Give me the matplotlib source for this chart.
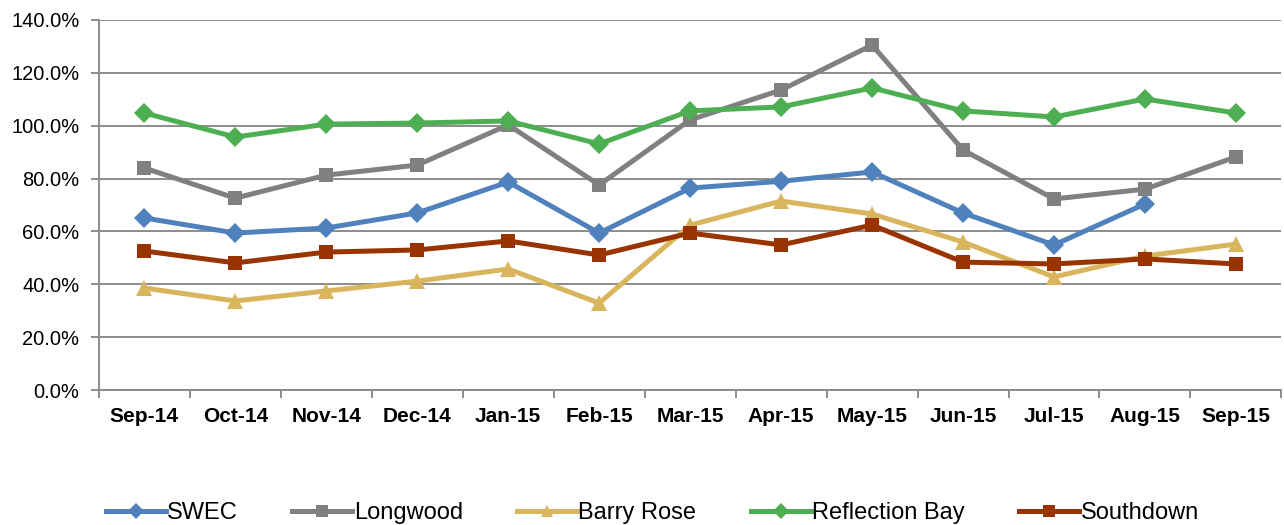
import matplotlib
matplotlib.use("Agg")
import matplotlib.pyplot as plt
from matplotlib.ticker import FuncFormatter, MultipleLocator, FixedLocator

plt.rcParams['font.family'] = ['Liberation Sans', 'DejaVu Sans']

months = ['Sep-14', 'Oct-14', 'Nov-14', 'Dec-14', 'Jan-15', 'Feb-15', 'Mar-15',
          'Apr-15', 'May-15', 'Jun-15', 'Jul-15', 'Aug-15', 'Sep-15']

swec = [65.1, 59.4, 61.3, 67.0, 78.7, 59.4, 76.4, 79.0, 82.5, 67.0, 54.9, 70.4, None]
longwood = [84.0, 72.6, 81.3, 85.1, 100.3, 77.6, 102.2, 113.5, 130.5, 90.8, 72.3, 76.0, 88.2]
barry_rose = [38.6, 33.7, 37.5, 41.2, 45.8, 32.9, 62.4, 71.5, 66.6, 56.0, 42.8, 50.7, 55.2]
reflection_bay = [104.8, 95.7, 100.6, 101.0, 101.8, 93.1, 105.6, 107.1, 114.3, 105.6, 103.3, 110.1, 104.8]
southdown = [52.6, 48.1, 52.2, 53.0, 56.4, 51.1, 59.4, 54.9, 62.4, 48.4, 47.7, 49.6, 47.7]

series = [
    ('SWEC', swec, '#4F81BD', 'D', 10),
    ('Longwood', longwood, '#808080', 's', 10),
    ('Barry Rose', barry_rose, '#D9B65E', '^', 11),
    ('Reflection Bay', reflection_bay, '#4EAF52', 'D', 10),
    ('Southdown', southdown, '#993300', 's', 10),
]

fig = plt.figure(figsize=(12.84, 5.25), dpi=100)
ax = fig.add_axes([0.077, 0.257, 0.921, 0.705])

x = list(range(len(months)))
for name, vals, color, marker, ms in series:
    xs = [i for i, v in zip(x, vals) if v is not None]
    ys = [v for v in vals if v is not None]
    ax.plot(xs, ys, color=color, lw=3.6, marker=marker, markersize=ms,
            markeredgewidth=0, label=name, solid_joinstyle='miter')

ax.set_xlim(-0.5, len(months) - 0.5)
ax.set_ylim(0, 140)
ax.yaxis.set_major_locator(MultipleLocator(20))
ax.yaxis.set_major_formatter(FuncFormatter(lambda v, p: f'{v:.1f}%'))
ax.grid(axis='y', color='#8c8c8c', lw=1.4)
ax.set_axisbelow(True)

ax.set_xticks(x)
ax.set_xticklabels(months, fontweight='bold', fontsize=15)
ax.xaxis.set_minor_locator(FixedLocator([i - 0.5 for i in range(len(months) + 1)]))
ax.tick_params(axis='x', which='major', length=0, pad=12)
ax.tick_params(axis='x', which='minor', length=6, color='#8c8c8c', width=1.4)
ax.tick_params(axis='y', length=6, color='#8c8c8c', width=1.4, labelsize=14.5, pad=8)

for side in ['top', 'right']:
    ax.spines[side].set_visible(False)
for side in ['left', 'bottom']:
    ax.spines[side].set_color('#8c8c8c')
    ax.spines[side].set_linewidth(1.4)

# legend row under the chart
fig.legend(loc='center', bbox_to_anchor=(0.508, 0.023), ncol=5, frameon=False,
           fontsize=17, handlelength=2.55, handletextpad=0.05, columnspacing=2.3,
           markerscale=0.85)

fig.savefig('out.png', dpi=100)
